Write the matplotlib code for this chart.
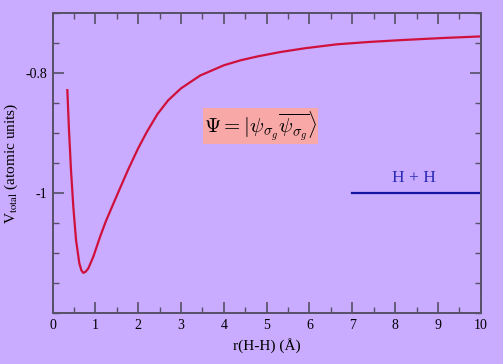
import matplotlib
matplotlib.use("Agg")
import matplotlib.pyplot as plt
from matplotlib.ticker import FixedLocator, MultipleLocator, FixedFormatter

r_vals = [0.346, 0.385, 0.432, 0.486, 0.549, 0.626, 0.675, 0.719, 0.775, 0.836, 0.953,
          1.109, 1.25, 1.40, 1.55, 1.77, 2.0, 2.2, 2.45, 2.7, 3.0, 3.45, 4.0, 4.4, 4.8,
          5.31, 5.9, 6.64, 7.4, 8.18, 9.1, 10.0]
v_vals = [-0.828, -0.895, -0.962, -1.023, -1.078, -1.117, -1.129, -1.133, -1.131, -1.1255,
          -1.106, -1.073, -1.046, -1.021, -0.996, -0.960, -0.925, -0.898, -0.868, -0.845,
          -0.825, -0.8035, -0.7865, -0.778, -0.7715, -0.7645, -0.758, -0.7515, -0.7475,
          -0.7443, -0.741, -0.7383]
asym_r = [7.0, 10.0]
asym_v = [-1.0, -1.0]
asym_label = "H + H"
yticks = [-1.0, -0.8]
yticklabels = ["-1", "-0.8"]
xticks = list(range(0, 11))

bg = "#c9abff"
fig = plt.figure(figsize=(5.03, 3.64), dpi=100, facecolor=bg)
ax = fig.add_axes([0.1044, 0.1401, 0.8515, 0.8229], facecolor=bg)

ax.plot(r_vals, v_vals, color="#d0103c", lw=1.6, solid_joinstyle="round")
ax.plot(asym_r, asym_v, color="#1414a0", lw=1.6)
ax.text(8.45, -0.975, asym_label, color="#2a2ab4", fontsize=12.5,
        family="Liberation Serif", ha="center", va="center")

ax.text(4.85, -0.8875, r'$\Psi = |\psi_{\sigma_g}\overline{\psi_{\sigma_g}}\rangle$',
        fontsize=15, math_fontfamily="cm", ha="center", va="center",
        bbox=dict(boxstyle="square,pad=0.05", fc="#f9a8a8", ec="none"))

ax.set_xlim(0, 10)
ax.set_ylim(-1.2, -0.7)
ax.xaxis.set_major_locator(FixedLocator(xticks))
ax.xaxis.set_minor_locator(MultipleLocator(0.5))
ax.yaxis.set_major_locator(FixedLocator(yticks))
ax.yaxis.set_major_formatter(FixedFormatter(yticklabels))
ax.yaxis.set_minor_locator(MultipleLocator(0.05))

spine_c = "#555066"
for s in ax.spines.values():
    s.set_color(spine_c)
    s.set_linewidth(1.4)
ax.tick_params(which="both", direction="in", top=True, right=True, color=spine_c,
               labelsize=10, labelcolor="black")
ax.tick_params(which="major", length=8, width=1.2, pad=4)
ax.tick_params(which="minor", length=4, width=1.0)
for lab in ax.get_xticklabels() + ax.get_yticklabels():
    lab.set_family("Liberation Serif")

ax.set_xlabel("r(H-H) (Å)", family="Liberation Serif", fontsize=11, labelpad=5)
ax.set_ylabel(r"V$_{\mathrm{total}}$ (atomic units)", family="Liberation Serif",
              fontsize=11, math_fontfamily="stix", labelpad=4)

fig.savefig("out.png", dpi=100, facecolor=bg)
